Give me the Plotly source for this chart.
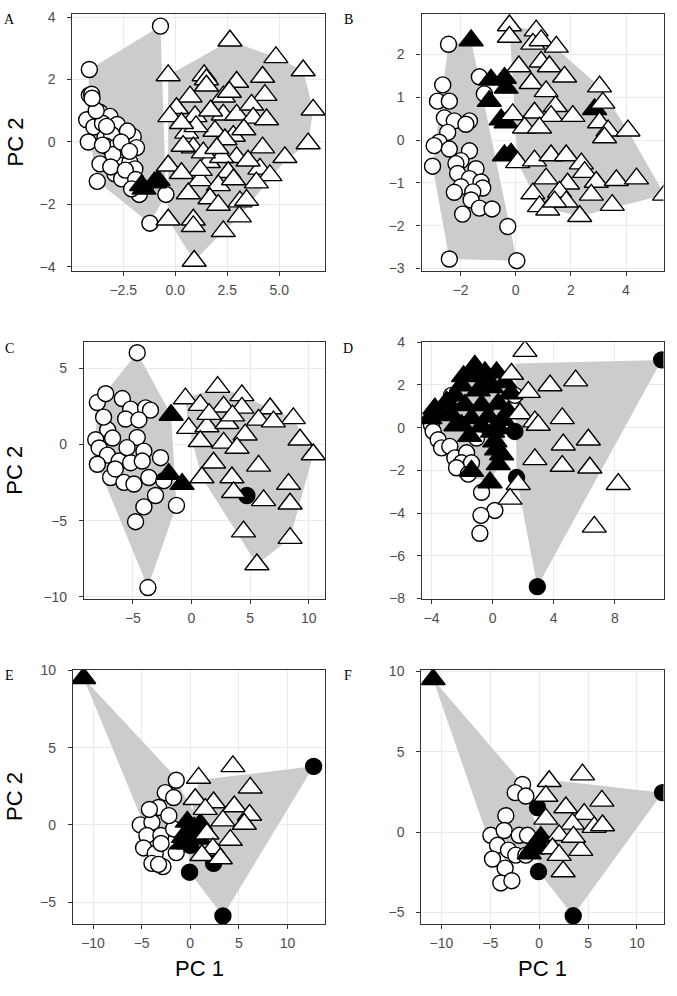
import plotly.graph_objects as go

# ---------------- data (PC1, PC2) ----------------
# Panel A
A_wc_x = [-0.71, -4.13, -4.13, -4.02, -4.26, -3.62, -3.14, -2.79, -3.91, -4.18, -3.38, -3.06, -3.33, -2.90, -2.02, -1.86, -2.66, -3.62, -2.18, -1.94, -2.90, -2.58, -3.75, -1.73, -0.45, -1.22, -2.50, -3.00, -2.30, -3.50, -3.80, -3.30, -2.60, -2.20, -3.10, -2.40, -1.90, -2.10, -3.50, -4.00]
A_wc_y = [3.71, 2.32, 1.50, 1.53, 0.71, 0.95, 0.82, 0.56, 0.48, 0.00, 0.14, 0.24, -0.13, -0.18, 0.17, -0.18, -0.55, -0.70, -0.65, -0.86, -1.02, -1.18, -1.26, -1.68, -1.68, -2.60, -0.25, -0.40, 0.35, 0.60, 1.00, 0.50, 0.00, -0.30, -0.80, -0.90, -1.20, -1.50, -0.10, 1.40]
A_bc_x = []
A_bc_y = []
A_bt_x = [-1.62, -1.50, -0.82, -1.00]
A_bt_y = [-1.39, -1.50, -1.23, -1.30]
A_wt_x = [2.63, 4.84, 6.15, 6.63, 6.39, 5.27, -0.34, 1.39, 2.95, 4.20, 4.31, 0.71, 2.31, 0.06, -0.26, 0.95, 2.31, 2.95, 3.67, 3.75, 4.39, 1.91, 0.55, 0.87, 2.79, 2.39, 4.20, 2.95, 1.59, 2.23, 4.07, 4.55, 2.55, -0.34, 1.19, 2.07, 0.63, 1.67, 2.07, 3.11, 3.43, -0.34, 0.87, 0.87, 3.08, 2.31, 0.91, 1.35, 0.38, 1.50, 1.00, 1.70, 2.00, 3.30, 3.50, 1.20, 0.30, 2.80, 3.90, 1.50, 2.60, 0.30]
A_wt_y = [3.24, 2.71, 2.29, 1.03, -0.05, -0.49, 2.13, 2.13, 1.92, 2.08, 1.50, 1.45, 1.45, 1.08, 0.82, 0.82, 0.87, 0.87, 1.19, 0.77, 0.72, 0.35, 0.29, -0.18, 0.19, 0.08, -0.18, -0.49, -0.65, -0.49, -0.86, -1.07, -0.97, -0.76, -1.23, -1.39, -1.65, -1.81, -2.02, -1.91, -1.86, -2.49, -2.49, -2.70, -2.39, -2.86, -3.81, -0.34, -0.13, 2.00, 0.50, 1.00, -0.20, 0.40, -0.60, -0.90, -1.00, -1.20, -1.30, 1.80, 1.60, 0.60]
A_hull1_x = [-4.13, -0.71, -0.45, -1.22, -3.75, -4.26]
A_hull1_y = [2.32, 3.71, -1.68, -2.60, -1.26, 0.71]
A_hull2_x = [-0.34, 2.63, 4.84, 6.15, 6.63, 6.39, 5.27, 3.08, 2.31, 0.91, -0.34]
A_hull2_y = [2.13, 3.24, 2.71, 2.29, 1.03, -0.05, -0.60, -2.39, -2.86, -3.81, -2.49]

# Panel B
B_wc_x = [-2.44, -1.32, -1.14, -2.65, -2.84, -2.41, -2.59, -2.23, -1.68, -1.81, -2.47, -2.78, -2.96, -2.41, -1.68, -1.99, -2.17, -3.02, -1.44, -2.11, -1.68, -1.26, -1.99, -2.23, -1.20, -1.56, -1.62, -1.32, -1.93, -0.86, -0.29, -2.41, 0.04]
B_wc_y = [2.24, 1.48, 1.08, 1.29, 0.91, 0.91, 0.52, 0.45, 0.45, 0.37, 0.18, -0.05, -0.13, -0.21, -0.25, -0.48, -0.55, -0.61, -0.67, -0.78, -0.90, -0.98, -1.09, -1.22, -1.12, -1.21, -1.40, -1.59, -1.73, -1.61, -2.02, -2.78, -2.82]
B_bc_x = []
B_bc_y = []
B_bt_x = [-1.62, -0.90, -0.41, -0.35, -0.96, -0.53, -0.35, -0.41, -0.17, 2.86]
B_bt_y = [2.33, 1.41, 1.45, 1.22, 0.91, 0.48, 0.41, -0.36, -0.32, 0.72]
B_wt_x = [-0.23, -0.23, 0.74, 0.62, 0.92, 1.47, 0.11, 0.92, 1.22, 1.77, 0.56, 1.10, 3.04, 3.16, 1.44, -0.11, 0.68, 1.28, 2.07, 3.04, 3.35, 4.07, 3.22, 0.32, 0.86, 0.07, 0.68, 1.28, 1.83, 2.38, 2.50, 1.10, 1.88, 2.92, 3.65, 4.38, 0.62, 1.59, 2.74, 5.40, 0.86, 1.16, 1.83, 2.32, 3.50, 1.41]
B_wt_y = [2.68, 2.41, 2.56, 2.25, 2.33, 2.18, 1.72, 1.83, 1.72, 1.48, 1.33, 1.14, 1.25, 0.87, 0.79, 0.60, 0.64, 0.56, 0.56, 0.41, 0.22, 0.22, 0.06, 0.29, 0.29, -0.52, -0.48, -0.36, -0.36, -0.55, -0.75, -0.90, -1.02, -0.98, -0.94, -0.90, -1.25, -1.21, -1.28, -1.28, -1.55, -1.63, -1.44, -1.78, -1.52, -1.44]
B_hull1_x = [-2.44, -1.62, 0.04, -2.41, -3.02, -2.65]
B_hull1_y = [2.24, 2.33, -2.82, -2.78, -0.61, 1.29]
B_hull2_x = [-0.23, 0.74, 3.04, 4.07, 5.40, 2.32, 0.86, 0.07]
B_hull2_y = [2.68, 2.56, 1.25, 0.22, -1.28, -1.78, -1.55, -0.52]

# Panel C
C_wc_x = [-4.63, -3.72, -8.03, -7.32, -5.90, -5.19, -3.92, -3.50, -5.62, -4.49, -7.15, -6.73, -4.63, -8.17, -7.88, -4.06, -7.17, -6.18, -5.19, -4.20, -2.64, -8.03, -6.90, -5.76, -4.91, -3.64, -2.36, -3.07, -4.06, -4.77, -1.28, -6.50, -5.50, -7.50]
C_wc_y = [6.03, -9.38, 2.76, 3.34, 3.02, 2.33, 2.41, 2.26, 1.68, 1.62, 0.97, 0.43, 0.47, 0.32, -0.22, -0.43, -0.69, -1.08, -1.19, -1.08, -0.86, -1.29, -2.16, -2.48, -2.59, -2.16, -2.37, -3.34, -4.09, -5.06, -3.99, -1.60, -0.20, 1.80]
C_bc_x = [4.72]
C_bc_y = [-3.34]
C_bt_x = [-1.74, -1.94, -0.80]
C_bt_y = [1.94, -1.94, -2.59]
C_wt_x = [2.23, 4.30, -0.52, 0.75, 2.74, 4.30, 6.71, 8.69, 5.72, 6.99, -0.24, 1.32, 3.02, 4.58, 9.26, 10.39, 0.75, 2.74, 3.88, 1.88, 5.72, 0.89, 3.45, 8.28, 3.59, 6.15, 8.41, 4.44, 8.41, 5.58, 1.50, 3.50]
C_wt_y = [3.77, 3.23, 3.02, 2.59, 2.48, 2.41, 2.37, 1.72, 1.62, 1.51, 1.08, 1.19, 1.40, 0.65, 0.32, -0.65, 0.22, 0.11, -0.22, -1.19, -1.40, -2.16, -2.16, -2.59, -3.13, -3.66, -3.88, -5.71, -6.14, -7.87, 2.00, 1.90]
C_hull1_x = [-4.63, -8.03, -8.17, -8.03, -3.72, -1.28, -1.74]
C_hull1_y = [6.03, 2.76, 0.32, -1.29, -9.38, -3.99, 1.94]
C_hull2_x = [-0.52, 2.23, 4.30, 6.71, 8.69, 10.39, 8.41, 5.58, 0.89, -0.24]
C_hull2_y = [3.02, 3.77, 3.23, 2.37, 1.72, -0.65, -6.14, -7.87, -2.16, 1.08]

# Panel D
D_wc_x = [-2.69, -4.00, -3.89, -3.56, -3.34, -2.80, -2.47, -1.70, -2.03, -1.38, -2.36, -1.59, -0.72, 0.15, -0.76, -0.83, -1.05, 1.46]
D_wc_y = [1.51, 0.12, -0.18, -0.57, -0.95, -0.88, -1.42, -1.18, -1.65, -1.65, -1.88, -2.18, -3.03, -3.88, -4.11, -4.95, -0.49, 1.51]
D_bc_x = [11.07, 2.93, 1.57, 1.46]
D_bc_y = [3.17, -7.45, -2.34, -0.18]
D_bt_x = [-3.78, -4.10, -1.16, -1.38, -0.50, 0.26, -2.03, -2.47, -0.94, -0.07, 0.81, -1.81, -0.72, 0.37, 1.03, -2.69, -1.38, -0.28, 0.70, -2.03, -0.72, 0.37, 0.15, 0.26, 0.59, -1.38, -0.17, 0.37, -3.20, -3.00, -1.90, -0.30, 1.20, -2.40, -1.50, 0.00]
D_bt_y = [0.89, 0.43, 2.89, 2.43, 2.58, 2.58, 1.97, 1.51, 1.74, 1.89, 2.12, 1.05, 1.05, 1.12, 0.74, 0.58, 0.43, 0.51, 0.35, 0.12, 0.05, -0.03, -0.65, -1.03, -1.26, -2.03, -2.57, -1.72, 0.60, 1.20, 2.40, 2.20, 1.60, 0.10, -0.40, -0.20]
D_wt_x = [2.12, 1.24, 2.34, 3.76, 5.44, 1.79, 2.77, 2.99, 4.56, 4.63, 6.27, 2.77, 4.56, 6.37, 8.23, 1.68, 1.14, 6.66]
D_wt_y = [3.58, 2.51, 1.66, 1.97, 2.20, 0.66, 0.28, 0.12, 0.43, -0.80, -0.57, -1.49, -1.80, -1.88, -2.65, -2.65, -3.34, -4.65]
D_hull1_x = [1.50, 11.07, 2.93, 1.57]
D_hull1_y = [3.00, 3.17, -7.45, -2.34]
D_hull2_x = [-4.10, -1.16, 0.81, 1.03, 0.59, -0.17, -2.80]
D_hull2_y = [0.90, 2.89, 2.30, 0.74, -1.50, -2.57, -2.00]

# Panel E
E_wc_x = [-1.44, -2.57, -1.71, -3.26, -5.14, -3.94, -4.46, -3.02, -1.71, -4.80, -3.60, -1.44, -3.94, -2.81, -3.26, -2.20, -3.00, -4.20]
E_wc_y = [2.89, 2.09, 1.77, 1.13, 0.00, 0.17, -0.68, -0.68, -0.26, -1.49, -1.85, -1.79, -2.49, -2.70, -2.55, 0.60, -1.20, 1.00]
E_bc_x = [12.69, 3.36, -0.07, 2.40, 0.00]
E_bc_y = [3.79, -5.89, -3.06, -2.49, -1.32]
E_bt_x = [-10.97, -0.34, 0.17, -0.69, 0.69, -0.17, 1.03, 0.40, -0.80, 0.90, -0.30]
E_bt_y = [9.49, -0.47, -0.79, -0.79, -0.26, -1.21, 0.06, -0.20, -1.20, -0.90, 0.20]
E_wt_x = [0.86, 4.39, 6.17, 0.51, 2.40, 4.53, 6.10, 1.54, 3.36, 5.56, 1.71, 4.12, 2.33, 1.20, 3.09]
E_wt_y = [3.04, 3.79, 2.40, 1.66, 1.45, 1.19, 0.64, 1.02, 0.28, 0.06, -0.57, -0.98, -1.53, -1.96, -2.17]
E_hull1_x = [-10.97, -1.89, 1.03, 0.00, -5.14]
E_hull1_y = [9.49, 3.36, 0.06, -1.40, 0.60]
E_hull2_x = [0.90, 12.69, 3.36, -0.07, -0.30]
E_hull2_y = [2.90, 3.79, -5.89, -3.06, -0.50]

# Panel F
F_wc_x = [-1.70, -2.45, -1.36, -3.41, -4.94, -3.58, -2.04, -1.19, -4.26, -3.14, -4.77, -2.39, -1.36, -3.48, -3.92, -2.79]
F_wc_y = [2.96, 2.45, 2.24, 1.02, -0.20, 0.10, -0.20, -0.20, -0.82, -1.12, -1.67, -1.43, -1.43, -2.24, -3.16, -3.02]
F_bc_x = [12.61, 3.48, -0.07, -0.17]
F_bc_y = [2.45, -5.20, -2.45, 1.53]
F_bt_x = [-10.84, -0.68, -0.17, -1.02, 0.17]
F_bt_y = [9.49, -1.02, -0.71, -1.33, -0.31]
F_wt_x = [1.02, 4.43, 6.41, 0.68, 2.73, 4.60, 0.68, 3.41, 5.62, 6.48, 2.04, 1.36, 4.26, 2.04, 2.45, 3.50]
F_wt_y = [3.16, 3.57, 1.94, 2.24, 1.53, 1.12, 0.82, 0.51, 0.31, 0.41, -0.20, -1.02, -1.12, -1.43, -2.45, -0.30]
F_hull1_x = [-10.84, -2.04, 0.17, -0.68, -5.45]
F_hull1_y = [9.49, 3.27, -0.31, -1.33, 0.00]
F_hull2_x = [1.00, 12.61, 3.48, -0.07, -0.17]
F_hull2_y = [3.25, 2.45, -5.20, -2.45, 1.53]

# axis ticks
A_xt = [-2.5, 0, 2.5, 5]; A_yt = [-4, -2, 0, 2, 4]
B_xt = [-2, 0, 2, 4]; B_yt = [-3, -2, -1, 0, 1, 2]
C_xt = [-5, 0, 5, 10]; C_yt = [-10, -5, 0, 5]
D_xt = [-4, 0, 4, 8]; D_yt = [-8, -6, -4, -2, 0, 2, 4]
E_xt = [-10, -5, 0, 5, 10]; E_yt = [-5, 0, 5, 10]
F_xt = [-10, -5, 0, 5, 10]; F_yt = [-5, 0, 5, 10]

panels = [
    dict(name="A", wc=(A_wc_x, A_wc_y), bc=(A_bc_x, A_bc_y), bt=(A_bt_x, A_bt_y), wt=(A_wt_x, A_wt_y),
         hulls=[(A_hull1_x, A_hull1_y), (A_hull2_x, A_hull2_y)], xr=[-4.95, 7.2], yr=[-4.13, 4.10],
         xt=A_xt, yt=A_yt, xfmt=".1f", px=(72.3, 325, 6, 267)),
    dict(name="B", wc=(B_wc_x, B_wc_y), bc=(B_bc_x, B_bc_y), bt=(B_bt_x, B_bt_y), wt=(B_wt_x, B_wt_y),
         hulls=[(B_hull1_x, B_hull1_y), (B_hull2_x, B_hull2_y)], xr=[-3.42, 5.36], yr=[-3.06, 2.95],
         xt=B_xt, yt=B_yt, xfmt="", px=(421.5, 663.5, 6, 267)),
    dict(name="C", wc=(C_wc_x, C_wc_y), bc=(C_bc_x, C_bc_y), bt=(C_bt_x, C_bt_y), wt=(C_wt_x, C_wt_y),
         hulls=[(C_hull1_x, C_hull1_y), (C_hull2_x, C_hull2_y)], xr=[-9.17, 11.39], yr=[-10.15, 6.72],
         xt=C_xt, yt=C_yt, xfmt="", px=(84, 325, 339.3, 600.3)),
    dict(name="D", wc=(D_wc_x, D_wc_y), bc=(D_bc_x, D_bc_y), bt=(D_bt_x, D_bt_y), wt=(D_wt_x, D_wt_y),
         hulls=[(D_hull1_x, D_hull1_y), (D_hull2_x, D_hull2_y)], xr=[-4.62, 11.19], yr=[-8.04, 4.0],
         xt=D_xt, yt=D_yt, xfmt="", px=(422, 663.5, 339.3, 600.3)),
    dict(name="E", wc=(E_wc_x, E_wc_y), bc=(E_bc_x, E_bc_y), bt=(E_bt_x, E_bt_y), wt=(E_wt_x, E_wt_y),
         hulls=[(E_hull1_x, E_hull1_y), (E_hull2_x, E_hull2_y)], xr=[-12.06, 13.86], yr=[-6.41, 10.03],
         xt=E_xt, yt=E_yt, xfmt="", px=(73, 325, 672, 930)),
    dict(name="F", wc=(F_wc_x, F_wc_y), bc=(F_bc_x, F_bc_y), bt=(F_bt_x, F_bt_y), wt=(F_wt_x, F_wt_y),
         hulls=[(F_hull1_x, F_hull1_y), (F_hull2_x, F_hull2_y)], xr=[-12.05, 12.71], yr=[-5.71, 10.08],
         xt=F_xt, yt=F_yt, xfmt="", px=(421.3, 663.5, 672, 930)),
]

W, H = 677, 996
HULL = "#CCCCCC"
CIRC = 16
TRI = 21
LW = 1.4

fig = go.Figure()
layout = dict(width=W, height=H, margin=dict(l=0, r=0, t=0, b=0),
              paper_bgcolor="white", plot_bgcolor="white", showlegend=False)
annotations = []

for i, p in enumerate(panels):
    k = "" if i == 0 else str(i + 1)
    xa, ya = "x" + k, "y" + k
    for hx, hy in p["hulls"]:
        fig.add_trace(go.Scatter(x=hx + [hx[0]], y=hy + [hy[0]], mode="lines", fill="toself",
                                 fillcolor=HULL, line=dict(width=0, color=HULL),
                                 hoverinfo="skip", xaxis=xa, yaxis=ya))
    for key, sym, fillc, sz in [("wc", "circle", "white", CIRC), ("bc", "circle", "black", CIRC),
                                ("bt", "triangle-up", "black", TRI), ("wt", "triangle-up", "white", TRI)]:
        xs, ys = p[key]
        if not xs:
            continue
        fig.add_trace(go.Scatter(x=xs, y=ys, mode="markers", xaxis=xa, yaxis=ya,
                                 marker=dict(symbol=sym, size=sz, color=fillc,
                                             line=dict(color="black", width=LW))))
    l, r, t, b = p["px"]
    common = dict(showgrid=True, gridcolor="#EBEBEB", gridwidth=1.4, zeroline=False,
                  showline=True, linecolor="#333333", linewidth=1.1, mirror=True,
                  ticks="outside", ticklen=4, tickwidth=1.1, tickcolor="#333333",
                  tickfont=dict(family="Liberation Sans, Arial, sans-serif", size=14, color="#4D4D4D"))
    layout["xaxis" + k] = dict(common, domain=[l / W, r / W], range=p["xr"], anchor=ya,
                               tickmode="array", tickvals=p["xt"], tickformat=p["xfmt"],
                               ticklabelstandoff=2)
    layout["yaxis" + k] = dict(common, domain=[1 - b / H, 1 - t / H], range=p["yr"], anchor=xa,
                               tickmode="array", tickvals=p["yt"], ticklabelstandoff=9)
    # panel letter
    lx = 9 if i % 2 == 0 else 348
    annotations.append(dict(text=p["name"], x=lx / W, y=1 - (t + 6) / H, xref="paper", yref="paper",
                            showarrow=False, xanchor="center", yanchor="middle",
                            font=dict(family="Liberation Serif, Times New Roman, serif", size=14, color="black")))
    if i % 2 == 0:
        annotations.append(dict(text="PC 2", x=15 / W, y=1 - ((t + b) / 2) / H, xref="paper", yref="paper",
                                showarrow=False, textangle=-90, xanchor="center", yanchor="middle",
                                font=dict(family="Liberation Sans, Arial, sans-serif", size=22, color="black")))
    if i >= 4:
        annotations.append(dict(text="PC 1", x=((l + r) / 2) / W, y=1 - 975 / H, xref="paper", yref="paper",
                                showarrow=False, xanchor="center", yanchor="middle",
                                font=dict(family="Liberation Sans, Arial, sans-serif", size=22, color="black")))

layout["annotations"] = annotations
fig.update_layout(**layout)
fig.write_html("out.html", config={"displayModeBar": False},
               post_script="document.body.style.margin='0';document.body.style.overflow='hidden';"
                           "document.documentElement.style.overflow='hidden';")
